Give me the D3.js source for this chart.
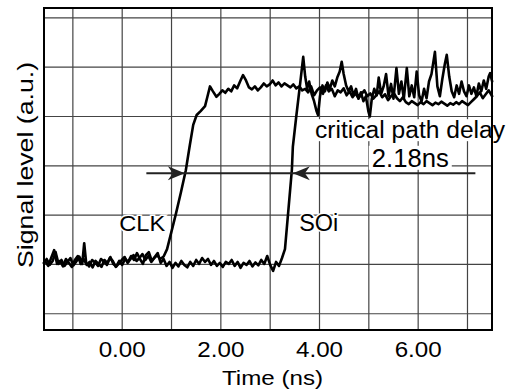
<!DOCTYPE html>
<html lang="en">
<head>
    <meta charset="UTF-8">
    <script src="https://d3js.org/d3.v7.min.js"></script>
    <title>Critical path delay</title>
    <style>
        body {
            margin: 0;
            background: #fff;
            font-family: "Liberation Sans", Arial, sans-serif;
        }
        .grid line {
            stroke: #444;
            stroke-width: 1.2;
        }
        .grid path {
            display: none;
        }
        .trace {
            fill: none;
            stroke: #000;
            stroke-width: 2.6;
            stroke-linejoin: round;
            stroke-linecap: round;
        }
        .halo {
            stroke: #fff;
            stroke-width: 3;
            paint-order: stroke;
        }
    </style>
</head>
<body>
    <div id="chart"></div>

    <script>
        // Scope traces, [time ns, level a.u.]
        const clkTrace = [
            [-1.58, 1.02], [-1.52, 1.10], [-1.46, 0.98], [-1.40, 1.06], [-1.34, 1.24], [-1.28, 1.00],
            [-1.22, 1.08], [-1.16, 0.96], [-1.10, 1.04], [-1.04, 1.12], [-0.98, 0.97], [-0.92, 1.05],
            [-0.86, 1.15], [-0.80, 1.00], [-0.76, 1.42], [-0.72, 1.02], [-0.66, 0.95], [-0.60, 1.08],
            [-0.54, 1.03], [-0.48, 0.96], [-0.42, 1.10], [-0.36, 1.05], [-0.30, 0.98], [-0.24, 1.12],
            [-0.18, 1.06], [-0.12, 0.94], [-0.06, 1.00], [0.00, 1.08], [0.06, 1.14], [0.12, 1.02],
            [0.18, 1.10], [0.24, 1.18], [0.30, 1.06], [0.36, 1.12], [0.42, 1.20], [0.48, 1.08],
            [0.54, 1.16], [0.60, 1.04], [0.66, 1.12], [0.72, 1.18], [0.78, 1.10], [0.85, 1.15],
            [0.92, 1.30], [1.00, 1.62], [1.10, 2.02], [1.20, 2.45], [1.30, 2.90], [1.38, 3.40],
            [1.45, 3.82], [1.52, 4.02], [1.60, 4.10], [1.69, 4.20], [1.74, 4.40], [1.79, 4.60],
            [1.85, 4.50], [1.92, 4.39], [1.98, 4.45], [2.04, 4.52], [2.10, 4.47], [2.16, 4.55],
            [2.22, 4.50], [2.28, 4.62], [2.34, 4.56], [2.40, 4.70], [2.46, 4.83], [2.52, 4.72],
            [2.58, 4.58], [2.64, 4.54], [2.70, 4.60], [2.76, 4.52], [2.82, 4.58], [2.88, 4.66],
            [2.94, 4.60], [3.00, 4.64], [3.06, 4.72], [3.12, 4.62], [3.18, 4.68], [3.24, 4.60],
            [3.30, 4.66], [3.36, 4.62], [3.42, 4.58], [3.48, 4.64], [3.54, 4.56], [3.60, 4.60],
            [3.66, 4.52], [3.72, 4.55], [3.78, 4.48], [3.84, 4.60], [3.90, 4.42], [3.96, 4.52],
            [4.02, 4.58], [4.08, 4.45], [4.14, 4.62], [4.20, 4.50], [4.26, 4.55], [4.32, 4.40],
            [4.38, 4.52], [4.44, 4.48], [4.50, 4.56], [4.56, 4.42], [4.62, 4.50], [4.68, 4.38],
            [4.74, 4.46], [4.80, 4.36], [4.86, 4.44], [4.92, 4.52], [4.98, 4.40], [5.04, 4.46],
            [5.10, 4.35], [5.16, 4.42], [5.22, 4.50], [5.28, 4.38], [5.34, 4.44], [5.40, 4.32],
            [5.46, 4.40], [5.52, 4.46], [5.58, 4.36], [5.64, 4.30], [5.70, 4.38], [5.76, 4.28],
            [5.82, 4.24], [5.88, 4.30], [5.94, 4.26], [6.00, 4.22], [6.06, 4.28], [6.12, 4.24],
            [6.18, 4.30], [6.24, 4.26], [6.30, 4.22], [6.36, 4.27], [6.42, 4.24], [6.48, 4.29],
            [6.54, 4.25], [6.60, 4.21], [6.66, 4.26], [6.72, 4.23], [6.78, 4.28], [6.84, 4.24],
            [6.90, 4.30], [6.96, 4.26], [7.02, 4.22], [7.08, 4.28], [7.14, 4.34], [7.20, 4.40],
            [7.26, 4.48], [7.32, 4.36], [7.38, 4.44], [7.44, 4.52], [7.51, 4.40]
        ];

        const soiTrace = [
            [-1.55, 1.05], [-1.49, 0.96], [-1.43, 1.12], [-1.37, 1.28], [-1.31, 1.00], [-1.25, 1.06],
            [-1.19, 0.95], [-1.13, 1.10], [-1.07, 1.02], [-1.01, 0.94], [-0.95, 1.08], [-0.89, 1.16],
            [-0.83, 1.00], [-0.77, 1.10], [-0.71, 0.98], [-0.65, 1.04], [-0.59, 0.93], [-0.53, 1.06],
            [-0.47, 1.00], [-0.41, 0.94], [-0.35, 1.08], [-0.29, 1.02], [-0.23, 1.14], [-0.17, 1.00],
            [-0.11, 0.95], [-0.05, 1.06], [0.01, 0.98], [0.07, 1.10], [0.13, 1.04], [0.19, 1.16],
            [0.25, 1.08], [0.31, 1.22], [0.37, 1.10], [0.43, 1.00], [0.49, 1.18], [0.55, 1.24],
            [0.61, 1.06], [0.67, 1.14], [0.73, 1.22], [0.79, 1.02], [0.85, 1.10], [0.91, 0.96],
            [0.97, 1.04], [1.03, 0.92], [1.09, 1.02], [1.15, 0.95], [1.21, 1.06], [1.27, 0.98],
            [1.33, 0.93], [1.39, 1.04], [1.45, 0.96], [1.51, 1.08], [1.57, 1.00], [1.63, 1.12],
            [1.69, 1.04], [1.75, 1.10], [1.81, 0.98], [1.87, 1.06], [1.93, 0.96], [1.99, 1.02],
            [2.05, 0.94], [2.11, 1.04], [2.17, 1.00], [2.23, 1.08], [2.29, 0.96], [2.35, 1.04],
            [2.41, 0.92], [2.47, 1.02], [2.53, 0.98], [2.59, 1.06], [2.65, 0.95], [2.71, 1.03],
            [2.77, 0.97], [2.83, 1.08], [2.89, 1.00], [2.95, 1.16], [3.01, 0.98], [3.07, 0.86],
            [3.13, 1.04], [3.19, 0.96], [3.25, 1.12], [3.31, 1.30], [3.38, 2.10], [3.45, 2.91],
            [3.47, 3.38], [3.54, 4.00], [3.61, 4.59], [3.68, 5.20], [3.72, 4.80], [3.76, 4.55],
            [3.80, 4.70], [3.85, 4.45], [3.90, 4.30], [3.95, 4.10], [3.98, 4.02], [4.02, 4.40],
            [4.07, 4.62], [4.12, 4.50], [4.17, 4.68], [4.22, 4.55], [4.27, 4.72], [4.32, 4.60],
            [4.37, 4.78], [4.42, 4.90], [4.46, 5.10], [4.50, 4.85], [4.55, 4.62], [4.60, 4.50],
            [4.65, 4.60], [4.70, 4.42], [4.75, 4.55], [4.80, 4.35], [4.85, 4.48], [4.90, 4.30],
            [4.95, 4.40], [5.00, 4.10], [5.03, 3.99], [5.07, 4.35], [5.12, 4.55], [5.17, 4.42],
            [5.21, 4.78], [5.26, 4.45], [5.31, 4.60], [5.36, 4.85], [5.41, 4.40], [5.46, 4.65],
            [5.51, 4.35], [5.57, 4.97], [5.62, 4.45], [5.67, 4.70], [5.72, 4.35], [5.78, 4.97],
            [5.83, 4.40], [5.88, 4.62], [5.93, 4.38], [5.98, 4.90], [6.03, 4.42], [6.08, 4.30],
            [6.13, 4.55], [6.18, 4.36], [6.23, 4.70], [6.28, 4.85], [6.35, 5.30], [6.40, 4.60],
            [6.45, 4.40], [6.50, 4.75], [6.55, 5.05], [6.59, 5.24], [6.64, 4.80], [6.69, 4.50],
            [6.74, 4.38], [6.79, 4.62], [6.84, 4.45], [6.89, 4.70], [6.94, 4.50], [6.99, 4.40],
            [7.04, 4.62], [7.09, 4.45], [7.14, 4.58], [7.19, 4.40], [7.24, 4.66], [7.29, 4.50],
            [7.34, 4.72], [7.39, 4.55], [7.44, 4.80], [7.47, 4.87], [7.51, 4.70]
        ];

        const gridTimes = [-1, 0, 1, 2, 3, 4, 5, 6, 7];
        const gridLevels = [0, 1, 2, 3, 4, 5, 6];
        const tickTimes = [0, 2, 4, 6];

        // delay marker
        const arrowLevel = 2.84;
        const arrowStart = 0.5;
        const arrowEnd = 7.17;
        const clkEdge = 1.28;
        const soiEdge = 3.47;

        const width = 512, height = 392;
        const margin = { top: 8, right: 20, bottom: 62, left: 44 };
        const plotW = width - margin.left - margin.right;
        const plotH = height - margin.top - margin.bottom;

        const x = d3.scaleLinear().domain([-1.575, 7.507]).range([0, plotW]);
        const y = d3.scaleLinear().domain([-0.34, 6.19]).range([plotH, 0]);

        const svg = d3.select("#chart")
            .append("svg")
            .attr("width", width)
            .attr("height", height)
            .style("display", "block");

        const g = svg.append("g")
            .attr("transform", `translate(${margin.left},${margin.top})`);

        // grid
        g.append("g")
            .attr("class", "grid")
            .attr("transform", `translate(0,${plotH})`)
            .call(d3.axisBottom(x).tickValues(gridTimes).tickSize(-plotH).tickFormat(""));

        g.append("g")
            .attr("class", "grid")
            .call(d3.axisLeft(y).tickValues(gridLevels).tickSize(-plotW).tickFormat(""));

        // tick labels
        const xAxis = g.append("g")
            .attr("transform", `translate(0,${plotH})`)
            .call(d3.axisBottom(x).tickValues(tickTimes).tickSize(0).tickPadding(11.5)
                .tickFormat(d3.format(".2f")));
        xAxis.select(".domain").remove();
        xAxis.selectAll("text")
            .attr("fill", "#000")
            .style("font-size", "21.5px")
            .style("font-family", "'Liberation Sans', Arial, sans-serif")
            .attr("textLength", 47)
            .attr("lengthAdjust", "spacingAndGlyphs");

        const bgLayer = g.append("g");
        const traceLayer = g.append("g");
        const labelLayer = g.append("g");

        function label(text, t, v, size, len, cls) {
            return labelLayer.append("text")
                .attr("class", cls || null)
                .attr("x", x(t))
                .attr("y", y(v))
                .attr("font-size", size)
                .attr("textLength", len)
                .attr("lengthAdjust", "spacingAndGlyphs")
                .text(text);
        }

        // white boxes behind the annotation
        const critical = label("critical path delay", 3.92, 3.55, 23.5, 190);
        const delay = label("2.18ns", 5.07, 2.97, 25, 77);
        [critical, delay].forEach(t => {
            const b = t.node().getBBox();
            bgLayer.append("rect")
                .attr("x", b.x - 3)
                .attr("y", b.y + 2)
                .attr("width", b.width + 6)
                .attr("height", b.height - 4)
                .attr("fill", "#fff");
        });

        label("CLK", -0.05, 1.67, 22.5, 46, "halo");
        label("SOi", 3.60, 1.67, 23, 39, "halo");

        // traces
        const line = d3.line().x(d => x(d[0])).y(d => y(d[1]));

        traceLayer.append("path").datum(clkTrace).attr("class", "trace").attr("d", line);
        traceLayer.append("path").datum(soiTrace).attr("class", "trace").attr("d", line);

        // delay arrow
        traceLayer.append("line")
            .attr("x1", x(arrowStart)).attr("x2", x(arrowEnd))
            .attr("y1", y(arrowLevel)).attr("y2", y(arrowLevel))
            .attr("stroke", "#222")
            .attr("stroke-width", 2);

        const head = "M0,0L-17,-7L-12,0L-17,7Z";
        traceLayer.append("path")
            .attr("d", head)
            .attr("fill", "#222")
            .attr("transform", `translate(${x(clkEdge)},${y(arrowLevel)})`);
        traceLayer.append("path")
            .attr("d", head)
            .attr("fill", "#222")
            .attr("transform", `translate(${x(soiEdge)},${y(arrowLevel)}) rotate(180)`);

        // frame
        g.append("rect")
            .attr("width", plotW)
            .attr("height", plotH)
            .attr("fill", "none")
            .attr("stroke", "#000")
            .attr("stroke-width", 2);

        // axis titles
        svg.append("text")
            .attr("x", 272.5)
            .attr("y", 385)
            .attr("text-anchor", "middle")
            .attr("font-size", 21)
            .attr("textLength", 101)
            .attr("lengthAdjust", "spacingAndGlyphs")
            .text("Time (ns)");

        svg.append("text")
            .attr("transform", "translate(33,165) rotate(-90)")
            .attr("text-anchor", "middle")
            .attr("font-size", 22)
            .attr("textLength", 206)
            .attr("lengthAdjust", "spacingAndGlyphs")
            .text("Signal level (a.u.)");
    </script>
</body>
</html>
